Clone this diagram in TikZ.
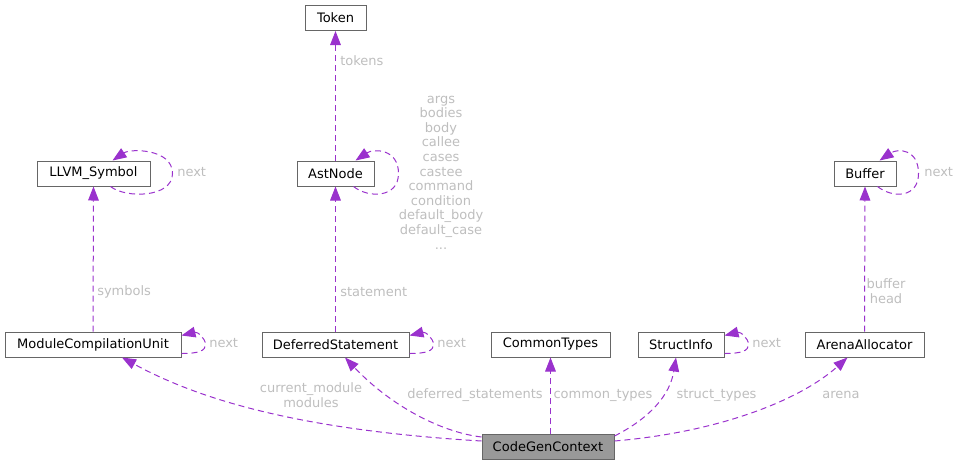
\documentclass[tikz,border=0pt]{standalone}
\usepackage{fontspec}
\setmainfont{DejaVu Sans}
\usetikzlibrary{arrows.meta,calc}
\definecolor{edgec}{HTML}{9A32CD}
\definecolor{labc}{HTML}{BEBEBE}
\definecolor{boxc}{HTML}{666666}
\definecolor{mainc}{HTML}{999999}
\tikzset{
 cls/.style={draw=boxc, line width=0.75pt, inner sep=0pt, minimum height={25*0.75pt}, font=\fontsize{9.75}{11}\selectfont, text=black},
 lbl/.style={text=labc, font=\fontsize{9.75}{10.95}\selectfont, inner sep=0pt, align=center},
 rel/.style={draw=edgec, line width=0.75pt, dash pattern=on 4.5pt off 3pt, -{Triangle[length=10.5pt,width=8pt]}},
}
\newcommand\toploop[3]{%
 \draw[rel] ($(#1.south east)+(#2,0)$) .. controls ($(#1.south east)+(#2+15,12)$) and ($(#1.east)+(#3,24.5)$) .. ($(#1.east)+(#3,0)$) .. controls ($(#1.east)+(#3,-25)$) and ($(#1.north east)+(#2+20,-12)$) .. ($(#1.north east)+(#2+2,0)$);}
\newcommand\sideloop[1]{%
 \draw[rel] ($(#1.south east)+(0,-4)$) .. controls ($(#1.south east)+(18,-4)$) and ($(#1.east)+(24,6)$) .. ($(#1.east)+(24,0)$) .. controls ($(#1.east)+(24,-6)$) and ($(#1.north east)+(16,0)$) .. ($(#1.north east)+(0,4)$);}
\begin{document}
\begin{tikzpicture}[x=0.75pt,y=-0.75pt]
\useasboundingbox (0,0) rectangle (959,465);
% nodes
\node[cls, minimum width={61*0.75pt}] (token) at (335.5,18) {Token};
\node[cls, minimum width={77*0.75pt}] (ast) at (335.5,173.5) {AstNode};
\node[cls, minimum width={113*0.75pt}] (llvm) at (93.5,173.5) {LLVM\_Symbol};
\node[cls, minimum width={62*0.75pt}] (buffer) at (865,173.5) {Buffer};
\node[cls, minimum width={176*0.75pt}] (mcu) at (93,344.5) {ModuleCompilationUnit};
\node[cls, minimum width={147*0.75pt}] (ds) at (335.5,344.5) {DeferredStatement};
\node[cls, minimum width={119*0.75pt}] (ct) at (550.5,344.5) {CommonTypes};
\node[cls, minimum width={86*0.75pt}] (si) at (681,344.5) {StructInfo};
\node[cls, minimum width={119*0.75pt}] (arena) at (864.5,344.5) {ArenaAllocator};
\node[cls, minimum width={132*0.75pt}, fill=mainc] (cgc) at (548,447) {CodeGenContext};
% straight edges
\draw[rel] (ast.north) -- (token.south);
\draw[rel] (ds.north) -- (ast.south);
\draw[rel] (mcu.north) -- (llvm.south);
\draw[rel] (arena.north) -- (buffer.south);
\draw[rel] (cgc.north -| ct.south) -- (ct.south);
% self loops
\toploop{llvm}{-40}{22}
\toploop{ast}{-21}{24}
\toploop{buffer}{-19}{22}
\sideloop{mcu}
\sideloop{ds}
\sideloop{si}
% curved edges
\draw[rel] ($(cgc.west)+(0,-6)$) .. controls (300,430) and (200,400) .. ($(mcu.south)+(29,0)$);
\draw[rel] ($(cgc.north west)+(0,3)$) .. controls (440,432) and (390,405) .. ($(ds.south)+(9.5,0)$);
\draw[rel] ($(cgc.north east)+(0,2)$) .. controls (650,418) and (670,395) .. ($(si.south)+(-5,0)$);
\draw[rel] ($(cgc.east)+(0,-6)$) .. controls (720,432) and (800,400) .. ($(arena.south)+(-17,0)$);
% labels
\node[lbl, anchor=west] (l1) at (340,61) {tokens};
\node[lbl] (l2) at (441,172.5) {args\\bodies\\body\\callee\\cases\\castee\\command\\condition\\default\_body\\default\_case\\...};
\node[lbl, anchor=west] (l3) at (177,172.5) {next};
\node[lbl, anchor=west] (l4) at (924,172.5) {next};
\node[lbl, anchor=west] (l5) at (97,292) {symbols};
\node[lbl, anchor=west] (l6) at (340,292) {statement};
\node[lbl] (l7) at (886,291) {buffer\\head};
\node[lbl, anchor=west] (l8) at (209,343.5) {next};
\node[lbl, anchor=west] (l9) at (437,343.5) {next};
\node[lbl, anchor=west] (l10) at (752,343.5) {next};
\node[lbl] (l11) at (311,395) {current\_module\\modules};
\node[lbl] (l12) at (475,395) {deferred\_statements};
\node[lbl] (l13) at (603,395) {common\_types};
\node[lbl] (l14) at (716.5,395) {struct\_types};
\node[lbl] (l15) at (841,395) {arena};
\end{tikzpicture}
\end{document}
